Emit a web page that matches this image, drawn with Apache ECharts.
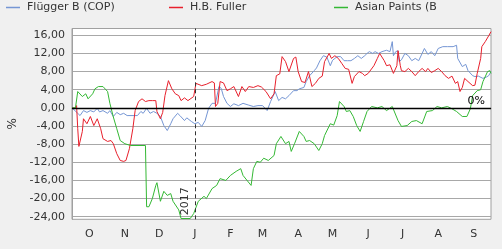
<!DOCTYPE html>
<html><head><meta charset="utf-8">
<script src="https://cdn.jsdelivr.net/npm/echarts@6/dist/echarts.min.js"></script>
<style>html,body{margin:0;padding:0;background:#f0f0f0;}#c{width:502px;height:249px;}</style>
</head><body><div id="c"></div><script>
// x values: days since 2016-09-16
const monthLabels = ['O','N','D','J','F','M','A','M','J','J','A','S'];
const monthDays = [15,46,76,107,138,166,197,227,258,288,319,350];
const yTicks = [-24,-20,-16,-12,-8,-4,0,4,8,12,16];
const yMin = -24.57, yMax = 17.5;
const seriesNames = ['Flügger B (COP)','H.B. Fuller','Asian Paints (B'];
const yearMarkDay = 107;
const yearLabel = '2017';
const zeroLabel = '0%';

const fluggerDays = [0,1,5,7,10,13,16,19,22,24,27,31,33,36,39,42,45,48,57,60,62,65,68,71,74,77,80,83,86,88,92,94,98,100,101,104,107,110,113,116,119,122,125,128,130,132,135,138,141,145,149,154,158,162,166,170,173,177,180,183,186,189,193,196,198,202,204,207,211,213,216,219,222,225,227,231,234,237,240,243,246,249,252,255,257,259,262,264,267,270,274,277,279,280,282,284,285,287,290,293,296,299,302,305,307,310,313,316,319,323,327,332,335,336,340,343,345,349,351,354,358,361,363,365];
const fluggerVals = [0,-0.1,-1.2,-1.7,-0.6,-1.0,-0.6,-0.9,-0.1,-0.9,-0.6,-1.2,-0.6,-1.9,-1.0,-1.5,-1.2,-1.7,-1.7,-0.8,-1.2,-0.1,-1.2,-0.8,-1.2,-1.9,-3.9,-5,-3.5,-2.4,-1.2,-1.7,-2.8,-2.2,-2.4,-3,-3.5,-3.2,-4.1,-2.8,-0.1,1,1,4.7,4.3,2.5,1,0.3,0.9,0.5,1,0.6,0.3,0.5,0.5,-0.6,1.4,3.6,1.6,2.3,2.0,2.7,3.8,3.8,4.2,4.5,5.8,7.1,8.2,8.8,10.4,11.5,11.2,9.3,10.5,11.3,11.3,10.4,10.4,10.4,10.9,11.5,10.9,11.5,12,12.4,12,12.4,12,12.4,12.7,12.4,14.6,11.5,12.4,12.6,10.2,10.6,12,11.5,10.4,10.9,10.4,12,13.1,11.8,12.4,11.5,13.1,13.5,13.5,13.5,13.8,10.9,9.1,9.6,8.2,7.1,6.9,7.0,6.5,6.8,7.1,8];

const fullerDays = [0,3,4,5,6,9,10,13,16,19,22,25,27,31,34,36,39,42,45,47,50,53,55,58,61,64,67,70,73,74,77,79,81,84,87,90,93,95,98,101,106,108,113,117,122,124,125,127,129,132,135,138,141,145,148,151,154,158,162,165,169,173,176,178,181,183,186,189,193,195,197,200,203,206,209,212,215,218,220,224,226,229,232,235,238,241,244,246,250,253,255,258,263,266,268,272,274,277,280,283,284,286,287,290,293,296,299,302,305,308,310,313,316,319,322,325,328,331,334,336,338,340,342,345,349,351,353,356,357,360,363,365];
const fullerVals = [0,-0.1,0.5,-4.6,-8.5,-5.2,-2.4,-3.5,-1.9,-3.9,-2.4,-4.6,-6.8,-7.4,-7.2,-7.9,-10.1,-11.6,-11.8,-11.6,-9,-4.6,-0.6,1.4,2.0,1.4,1.6,1.6,1.6,-0.8,-2.4,-1.0,2.7,6,4.2,3.1,2.7,1.6,2.2,1.6,2.5,5.4,4.9,5.2,5.8,5.5,0.3,1,5.8,5.5,3.8,4.2,4.7,2.5,4.7,3.6,4.7,4.5,4.9,4.6,3.6,2.0,3.1,7.1,7.5,11.3,10.2,8.0,10.9,11.2,8.0,5.8,5.6,8,4.7,5.4,6.5,7,10.2,12,10.9,11.5,10.9,9.8,8.7,8.5,5.4,6.9,8,7.6,7.1,7.6,9.3,10.9,12,10.4,9.3,9.5,7.6,9.3,12.6,9.3,8.2,8.0,8.7,8.0,7.1,8.0,8.7,8.0,8.7,7.8,8.2,8.7,8.0,7.1,6.5,7.0,5.4,5.8,3.6,4.5,6.5,5.8,4.9,5.0,7.6,10.9,13.5,14.6,15.9,16.8];

const asianDays = [0,3,5,9,12,14,18,20,23,27,31,33,36,39,42,46,51,64,65,67,70,73,74,77,80,83,86,88,93,95,103,106,110,115,117,122,126,129,134,138,143,147,149,156,158,161,164,167,171,176,178,182,186,189,191,194,198,202,204,207,211,215,218,220,225,228,231,233,237,239,242,245,248,251,254,257,261,266,270,274,279,284,287,292,296,300,305,309,314,318,322,327,331,335,340,344,347,349,353,356,358,362,364,365];
const asianVals = [0,0,3.6,2.5,3.1,2.0,3.1,4.2,4.7,4.7,3.6,1.0,-2,-4.6,-7.2,-7.9,-8.3,-8.3,-21.8,-21.8,-20,-17.1,-16.5,-20.6,-18.4,-19.3,-18.9,-20.6,-22.5,-24.4,-24.4,-23.3,-20.6,-19.5,-20,-17.8,-17.1,-15.6,-16,-14.9,-14,-13.4,-14.9,-17.1,-13.4,-11.8,-12,-11.1,-11.6,-10.5,-7.9,-6.3,-7.9,-7.4,-9.6,-7.8,-5.2,-6.3,-7.4,-7.2,-7.9,-9.4,-7.9,-6.1,-3.5,-3.8,-1.7,1.4,0.3,-0.8,-0.6,-1.9,-3.9,-5.2,-3,-0.8,0.3,0,0.3,-0.6,0.3,-2.8,-4.1,-3.9,-3,-2.8,-3.5,-0.8,-0.6,0.3,0,0.3,-0.2,-0.8,-1.9,-1.9,-0.2,2.7,3.8,4,5.8,8,8.2,7.6];

const FONT = 'DejaVu Sans';
const colors = ['#7596d4','#e8202c','#34b834'];
const legendLeft = [6,169,334];
const zip = (d, v) => d.map((x, i) => [x, v[i]]);
const seriesData = [zip(fluggerDays, fluggerVals), zip(fullerDays, fullerVals), zip(asianDays, asianVals)];

const chart = echarts.init(document.getElementById('c'), null, {renderer:'canvas'});
const option = {
  animation: false,
  backgroundColor: '#f0f0f0',
  textStyle: {fontFamily: FONT},
  legend: seriesNames.map((n, i) => ({
    data: [n], left: legendLeft[i], top: 2, icon: 'rect', itemWidth: 14, itemHeight: 1.5,
    selectedMode: false, padding: 0,
    textStyle: {fontSize: 11, color: '#333', fontFamily: FONT, padding: [0,0,0,2]}
  })),
  grid: {left: 72, right: 11, top: 28.5, bottom: 29.7, show: true, backgroundColor: '#fff',
    borderColor: '#a0a0a0', borderWidth: 1, containLabel: false, outerBoundsMode: 'none'},
  xAxis: {
    type: 'value', min: 0, max: 365,
    axisLine: {show: true, lineStyle: {color: '#a0a0a0'}},
    axisTick: {show: false},
    splitLine: {show: false},
    axisLabel: {customValues: monthDays, formatter: v => monthLabels[monthDays.indexOf(v)],
      fontSize: 11, color: '#333', margin: 9, fontFamily: FONT}
  },
  yAxis: {
    type: 'value', min: yMin, max: yMax,
    name: '%', nameLocation: 'middle', nameGap: 52, nameRotate: 90,
    nameTextStyle: {fontSize: 12, color: '#333', fontFamily: FONT},
    axisLine: {show: true, lineStyle: {color: '#a0a0a0'}},
    axisTick: {show: false, customValues: yTicks},
    axisLabel: {customValues: yTicks, formatter: v => v.toFixed(2).replace('.', ','),
      fontSize: 11, color: '#333', margin: 7, fontFamily: FONT},
    splitLine: {show: true, lineStyle: {color: '#a8a8a8', width: 1}}
  },
  series: seriesNames.map((n, i) => {
    const s = {
      name: n, type: 'line', data: seriesData[i], showSymbol: false, symbol: 'none',
      color: colors[i], lineStyle: {color: colors[i], width: 1}, itemStyle: {color: colors[i]},
      z: 2 + i
    };
    if (i === 0) {
      s.markLine = {
        silent: true, symbol: ['none','none'], animation: false,
        data: [
          {yAxis: 0, lineStyle: {color: '#000', width: 1.3, type: 'solid'},
            label: {show: true, position: 'insideEndTop', formatter: zeroLabel, color: '#000', fontSize: 11, fontFamily: FONT, distance: [6, 1]}},
          [
            {coord: [yearMarkDay, yMin], lineStyle: {color: '#333', width: 1, type: [4, 3]},
              label: {show: true, position: 'insideStartTop', formatter: yearLabel, color: '#333', fontSize: 11, fontFamily: FONT, distance: 4}},
            {coord: [yearMarkDay, yMax]}
          ]
        ]
      };
    }
    return s;
  })
};
chart.setOption(option);
</script></body></html>
